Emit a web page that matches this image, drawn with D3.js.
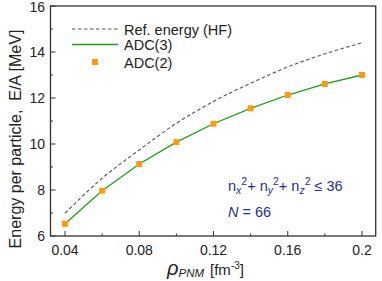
<!DOCTYPE html>
<html><head><meta charset="utf-8">
<script src="https://cdn.jsdelivr.net/npm/d3@7"></script>
<style>body{margin:0;background:#fff}svg{display:block}text{font-family:"Liberation Sans",Arial,sans-serif}</style>
</head><body><svg id="c" width="382" height="281"></svg>
<script>
const density = [0.04,0.06,0.08,0.10,0.12,0.14,0.16,0.18,0.20];
const hf   = [6.99,8.51,9.74,10.9,11.85,12.64,13.35,13.92,14.4];
const adc3 = [6.53,7.97,9.13,10.08,10.88,11.55,12.13,12.61,13.0];
const adc2 = [6.53,7.97,9.13,10.08,10.88,11.55,12.13,12.61,13.0];
const xTicks = [0.04,0.08,0.12,0.16,0.2];
const xTickLabels = ["0.04","0.08","0.12","0.16","0.2"];
const xMinor = [0.06,0.10,0.14,0.18];
const yTicks = [6,8,10,12,14,16];
const yMinor = [7,9,11,13,15];

const svg = d3.select("#c");
const L=50.5,R=375.7,T=6,B=236;
const x = d3.scaleLinear().domain([0.04-14.5/1856,0.2+13.7/1856]).range([L,R]);
const y = d3.scaleLinear().domain([6,16]).range([B,T]);
const axc="#333";

// series
const line = d3.line().x((d,i)=>x(density[i])).y(d=>y(d)).curve(d3.curveMonotoneX);
svg.append("path").attr("d",line(hf)).attr("fill","none").attr("stroke","#555").attr("stroke-width",1.1).attr("stroke-dasharray","3.5,2.5");
svg.append("path").attr("d",d3.line().x((d,i)=>x(density[i])).y(d=>y(d))(adc3)).attr("fill","none").attr("stroke","#1e9e1e").attr("stroke-width",1.3);
svg.selectAll("rect.p").data(adc2).enter().append("rect").attr("class","p")
  .attr("x",(d,i)=>x(density[i])-3).attr("y",d=>y(d)-3).attr("width",6).attr("height",6).attr("fill","#ff9a10");

// frame
svg.append("rect").attr("x",L).attr("y",T).attr("width",R-L).attr("height",B-T).attr("fill","none").attr("stroke",axc).attr("stroke-width",1.3);
// ticks
const g=svg.append("g").attr("stroke",axc).attr("stroke-width",1);
xTicks.forEach(t=>g.append("line").attr("x1",x(t)).attr("x2",x(t)).attr("y1",B).attr("y2",B-5));
xMinor.forEach(t=>g.append("line").attr("x1",x(t)).attr("x2",x(t)).attr("y1",B).attr("y2",B-2.5));
yTicks.forEach(t=>g.append("line").attr("y1",y(t)).attr("y2",y(t)).attr("x1",L).attr("x2",L+5));
yMinor.forEach(t=>g.append("line").attr("y1",y(t)).attr("y2",y(t)).attr("x1",L).attr("x2",L+2.5));

xTicks.forEach((t,i)=>svg.append("text").attr("x",x(t)).attr("y",255).attr("text-anchor","middle").attr("font-size",14).attr("fill","#222").text(xTickLabels[i]));
yTicks.forEach(t=>svg.append("text").attr("x",45).attr("y",Math.max(y(t)+5,12)).attr("text-anchor","end").attr("font-size",14).attr("fill","#222").text(t));

// axis labels
svg.append("text").attr("transform","translate(21,139) rotate(-90)").attr("text-anchor","middle").attr("font-size",16).attr("fill","#222").text("Energy per particle,\u00a0\u00a0E/A [MeV]");
const xl=svg.append("text").attr("x",167).attr("y",275).attr("font-size",15).attr("fill","#222");
xl.append("tspan").attr("font-style","italic").attr("font-size",20).text("ρ");
xl.append("tspan").attr("font-style","italic").attr("font-size",11.5).attr("dy",2).text("PNM");
xl.append("tspan").attr("dy",-2).attr("dx",6).text("[fm");
xl.append("tspan").attr("font-size",10).attr("dy",-6).text("-3");
xl.append("tspan").attr("dy",6).text("]");

// legend
svg.append("line").attr("x1",72).attr("x2",118).attr("y1",29).attr("y2",29).attr("stroke","#555").attr("stroke-width",1.1).attr("stroke-dasharray","3.5,2.5");
svg.append("line").attr("x1",72).attr("x2",118).attr("y1",44.5).attr("y2",44.5).attr("stroke","#1e9e1e").attr("stroke-width",1.3);
svg.append("rect").attr("x",92).attr("y",59).attr("width",6).attr("height",6).attr("fill","#ff9a10");
[["Ref. energy (HF)",34.5],["ADC(3)",50],["ADC(2)",67.5]].forEach(d=>svg.append("text").attr("x",124).attr("y",d[1]).attr("font-size",14.5).attr("fill","#222").text(d[0]));

// annotation
const blue="#1f2e9c";
const a=svg.append("text").attr("x",228).attr("y",191).attr("font-size",14.5).attr("fill",blue);
a.append("tspan").text("n");
a.append("tspan").attr("font-style","italic").attr("font-size",10.5).attr("dy",3).text("x");
a.append("tspan").attr("font-size",10.5).attr("dy",-9).text("2");
a.append("tspan").attr("dy",6).text("+ n");
a.append("tspan").attr("font-style","italic").attr("font-size",10.5).attr("dy",3).text("y");
a.append("tspan").attr("font-size",10.5).attr("dy",-9).text("2");
a.append("tspan").attr("dy",6).text("+ n");
a.append("tspan").attr("font-style","italic").attr("font-size",10.5).attr("dy",3).text("z");
a.append("tspan").attr("font-size",10.5).attr("dy",-9).text("2");
a.append("tspan").attr("dy",6).text(" ≤ 36");
const n=svg.append("text").attr("x",228).attr("y",217).attr("font-size",14.5).attr("fill",blue);
n.append("tspan").attr("font-style","italic").text("N");
n.append("tspan").text(" = 66");
</script></body></html>
